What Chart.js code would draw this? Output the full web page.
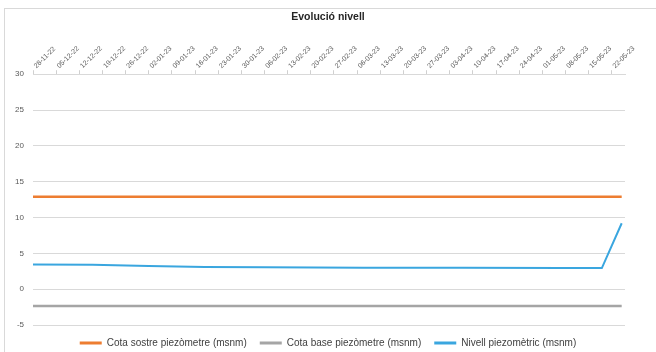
<!DOCTYPE html>
<html>
<head>
<meta charset="utf-8">
<script src="https://cdn.jsdelivr.net/npm/chart.js@4.4.1/dist/chart.umd.min.js"></script>
<style>
  html, body { margin: 0; padding: 0; background: #ffffff; }
  #wrap { width: 656px; height: 352px; position: relative; }
</style>
</head>
<body>
<div id="wrap"><canvas id="c" width="656" height="352"></canvas></div>
<script>
// Tick labels (weekly, days from 28-11-22)
const tickLabels = ["28-11-22","05-12-22","12-12-22","19-12-22","26-12-22","02-01-23","09-01-23","16-01-23","23-01-23","30-01-23","06-02-23","13-02-23","20-02-23","27-02-23","06-03-23","13-03-23","20-03-23","27-03-23","03-04-23","10-04-23","17-04-23","24-04-23","01-05-23","08-05-23","15-05-23","22-05-23"];
const tickDays = [0,7,14,21,28,35,42,49,56,63,70,77,84,91,98,105,112,119,126,133,140,147,154,161,168,175];

// Series (x = days since 28-11-22)
const sostreDays = [0, 178];
const sostreValues = [12.9, 12.9];
const baseDays = [0, 178];
const baseValues = [-2.35, -2.35];
const nivellDays = [0, 18, 35, 52, 70, 100, 130, 160, 172, 178];
const nivellValues = [3.45, 3.4, 3.25, 3.1, 3.05, 3.0, 2.98, 2.95, 2.95, 9.2];

const seriesNames = ["Cota sostre piezòmetre (msnm)", "Cota base piezòmetre (msnm)", "Nivell piezomètric (msnm)"];
const seriesColors = ["#ED7D31", "#A5A5A5", "#3AA6DF"];

const toPts = (xs, ys) => xs.map((x, i) => ({ x: x, y: ys[i] }));

const frame = {
  id: 'frame',
  beforeDraw(chart) {
    const ctx = chart.ctx;
    ctx.save();
    ctx.fillStyle = '#ffffff';
    ctx.fillRect(0, 0, chart.width, chart.height);
    ctx.strokeStyle = '#d9d9d9';
    ctx.lineWidth = 1;
    ctx.strokeRect(4.5, 8.5, 700, 400);
    ctx.restore();
  }
};

new Chart(document.getElementById('c'), {
  type: 'line',
  data: {
    datasets: [
      { label: seriesNames[0], data: toPts(sostreDays, sostreValues), borderColor: seriesColors[0], backgroundColor: seriesColors[0], borderWidth: 2.5, pointRadius: 0, tension: 0 },
      { label: seriesNames[1], data: toPts(baseDays, baseValues), borderColor: seriesColors[1], backgroundColor: seriesColors[1], borderWidth: 2.5, pointRadius: 0, tension: 0 },
      { label: seriesNames[2], data: toPts(nivellDays, nivellValues), borderColor: seriesColors[2], backgroundColor: seriesColors[2], borderWidth: 2, pointRadius: 0, tension: 0 }
    ]
  },
  options: {
    responsive: false,
    animation: false,
    devicePixelRatio: 1,
    layout: { padding: { left: 14, right: 14, top: 0, bottom: 0 } },
    plugins: {
      tooltip: { enabled: false },
      title: {
        display: true,
        text: 'Evolució nivell',
        color: '#262626',
        font: { family: 'Liberation Sans', size: 10.5, weight: 'bold' },
        padding: { top: 11, bottom: 0 }
      },
      legend: {
        position: 'bottom',
        maxHeight: 27,
        labels: {
          color: '#404040',
          font: { family: 'Liberation Sans', size: 10 },
          boxWidth: 22,
          boxHeight: 3,
          padding: 13,
          generateLabels(chart) {
            const items = Chart.defaults.plugins.legend.labels.generateLabels(chart);
            items.forEach(it => { it.lineWidth = 0; it.fillStyle = it.strokeStyle; });
            return items;
          }
        }
      }
    },
    scales: {
      x: {
        type: 'linear',
        position: 'top',
        min: 0,
        max: 179,
        afterFit(scale) { scale.height = 50.6; scale.paddingRight = 31; scale.paddingLeft = 0; },
        afterBuildTicks(scale) { scale.ticks = tickDays.map(v => ({ value: v })); },
        grid: { display: true, drawOnChartArea: false, drawTicks: true, tickLength: 4, color: '#d0d0d0' },
        border: { display: true, color: '#d9d9d9' },
        ticks: {
          autoSkip: false,
          maxRotation: 45,
          minRotation: 45,
          padding: 0,
          labelOffset: 8,
          color: '#595959',
          font: { family: 'Liberation Sans', size: 7 },
          callback(value) {
            const i = tickDays.indexOf(value);
            return i >= 0 ? tickLabels[i] : '';
          }
        }
      },
      y: {
        min: -5,
        max: 30,
        afterFit(scale) { scale.width = 19; },
        grid: { color: '#d9d9d9', drawTicks: false },
        border: { display: false },
        ticks: {
          stepSize: 5,
          padding: 9,
          color: '#595959',
          font: { family: 'Liberation Sans', size: 8 }
        }
      }
    }
  },
  plugins: [frame]
});
</script>
</body>
</html>
